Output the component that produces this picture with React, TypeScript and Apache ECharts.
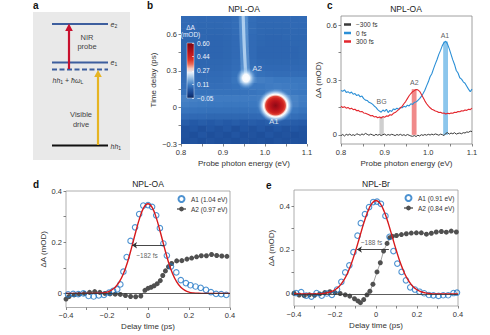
import React, { useEffect, useRef } from 'react';
import * as echarts from 'echarts';

const FONT = '"Liberation Sans", Arial, Helvetica, sans-serif';

// ---------------- panel b : transient absorption map ----------------
const heatEnergy = [0.81, 0.83, 0.85, 0.87, 0.89, 0.91, 0.93, 0.95, 0.97, 0.99, 1.01, 1.03, 1.05, 1.07, 1.09];
const heatDelay = [0.725, 0.675, 0.625, 0.575, 0.525, 0.475, 0.425, 0.375, 0.325, 0.275, 0.225, 0.175, 0.125, 0.075, 0.025, -0.025, -0.075, -0.125, -0.175, -0.225, -0.275];
const heatValues = [
  [0.078, 0.078, 0.076, 0.076, 0.076, 0.076, 0.082, 0.1, 0.082, 0.076, 0.076, 0.076, 0.076, 0.076, 0.078],
  [0.076, 0.076, 0.074, 0.074, 0.074, 0.076, 0.082, 0.1, 0.08, 0.074, 0.074, 0.074, 0.074, 0.076, 0.076],
  [0.074, 0.074, 0.072, 0.072, 0.072, 0.074, 0.08, 0.098, 0.08, 0.074, 0.072, 0.072, 0.072, 0.074, 0.074],
  [0.072, 0.072, 0.072, 0.07, 0.07, 0.072, 0.078, 0.095, 0.078, 0.072, 0.07, 0.07, 0.072, 0.072, 0.072],
  [0.072, 0.072, 0.07, 0.07, 0.07, 0.072, 0.078, 0.092, 0.078, 0.072, 0.07, 0.07, 0.07, 0.072, 0.072],
  [0.072, 0.07, 0.07, 0.07, 0.07, 0.072, 0.078, 0.09, 0.078, 0.07, 0.07, 0.07, 0.07, 0.07, 0.072],
  [0.072, 0.07, 0.07, 0.07, 0.07, 0.072, 0.078, 0.09, 0.078, 0.07, 0.07, 0.07, 0.07, 0.07, 0.072],
  [0.074, 0.072, 0.072, 0.072, 0.072, 0.074, 0.08, 0.092, 0.08, 0.074, 0.072, 0.072, 0.072, 0.072, 0.074],
  [0.076, 0.076, 0.074, 0.074, 0.074, 0.076, 0.082, 0.1, 0.085, 0.078, 0.076, 0.076, 0.076, 0.076, 0.076],
  [0.08, 0.08, 0.078, 0.078, 0.078, 0.08, 0.088, 0.115, 0.1, 0.088, 0.084, 0.082, 0.082, 0.082, 0.082],
  [0.082, 0.082, 0.08, 0.08, 0.08, 0.084, 0.095, 0.13, 0.118, 0.108, 0.104, 0.1, 0.1, 0.098, 0.098],
  [0.086, 0.086, 0.084, 0.084, 0.084, 0.086, 0.09, 0.1, 0.1, 0.1, 0.104, 0.106, 0.104, 0.102, 0.1],
  [0.092, 0.092, 0.09, 0.09, 0.09, 0.09, 0.09, 0.092, 0.094, 0.098, 0.104, 0.112, 0.106, 0.1, 0.098],
  [0.112, 0.11, 0.108, 0.106, 0.104, 0.104, 0.104, 0.104, 0.104, 0.108, 0.124, 0.14, 0.13, 0.114, 0.106],
  [0.106, 0.104, 0.102, 0.1, 0.1, 0.098, 0.098, 0.098, 0.1, 0.106, 0.13, 0.15, 0.135, 0.112, 0.104],
  [0.094, 0.092, 0.09, 0.088, 0.088, 0.088, 0.088, 0.088, 0.09, 0.095, 0.112, 0.128, 0.118, 0.1, 0.094],
  [0.078, 0.076, 0.076, 0.074, 0.074, 0.074, 0.074, 0.074, 0.076, 0.078, 0.086, 0.092, 0.09, 0.084, 0.08],
  [0.056, 0.05, 0.056, 0.05, 0.056, 0.05, 0.056, 0.05, 0.056, 0.052, 0.058, 0.062, 0.06, 0.056, 0.054],
  [0.036, 0.044, 0.032, 0.044, 0.036, 0.046, 0.032, 0.044, 0.036, 0.046, 0.034, 0.044, 0.036, 0.044, 0.038],
  [0.036, 0.03, 0.042, 0.03, 0.038, 0.03, 0.042, 0.032, 0.038, 0.03, 0.042, 0.032, 0.038, 0.03, 0.036],
  [0.032, 0.038, 0.03, 0.038, 0.032, 0.036, 0.03, 0.038, 0.032, 0.036, 0.03, 0.038, 0.032, 0.036, 0.034],
];
const heatColors = ['#0b275f', '#16408a', '#2459a6', '#3b78c0', '#6b9fd5', '#a8caea', '#e6f0fa', '#f7c5b8', '#ea6a57', '#da3529', '#c71f21', '#b0121b', '#960b17', '#7a0613'];
const heatMin = -0.05;
const heatMax = 0.6;
const colorbarTicks = [0.6, 0.44, 0.27, 0.11, -0.05];
const blobA1 = [1.025, 0.015];
const blobA2 = [0.955, 0.241];
const streak = [[0.954, 0.27], [0.952, 0.4], [0.95, 0.55], [0.948, 0.75]];
const heatLabels = [[0.981, 0.323, 'A2'], [1.021, -0.114, 'A1']];
const bXTicks = [0.8, 0.85, 0.9, 0.95, 1.0, 1.05, 1.1];
const bXLabels = [0.8, 0.9, 1.0, 1.1];
const bYTicks = [-0.3, -0.15, 0, 0.15, 0.3, 0.45, 0.6];
const bYLabels = [-0.3, 0, 0.3, 0.6];

// ---------------- panel c : spectra ----------------
const specStart = 0.8;
const specStep = 0.004;
const spec0fs = [0.243, 0.238, 0.246, 0.232, 0.236, 0.228, 0.234, 0.222, 0.226, 0.215, 0.22, 0.208, 0.212, 0.198, 0.19, 0.188, 0.178, 0.174, 0.168, 0.158, 0.15, 0.138, 0.13, 0.124, 0.136, 0.128, 0.14, 0.122, 0.134, 0.128, 0.142, 0.138, 0.146, 0.14, 0.15, 0.148, 0.156, 0.152, 0.162, 0.158, 0.17, 0.166, 0.178, 0.18, 0.188, 0.198, 0.21, 0.226, 0.244, 0.268, 0.29, 0.318, 0.334, 0.362, 0.388, 0.412, 0.44, 0.462, 0.488, 0.505, 0.512, 0.496, 0.47, 0.44, 0.41, 0.385, 0.352, 0.338, 0.312, 0.305, 0.29, 0.282, 0.266, 0.25, 0.236, 0.25];
const spec300fs = [0.156, 0.15, 0.154, 0.146, 0.15, 0.142, 0.146, 0.138, 0.14, 0.132, 0.134, 0.126, 0.128, 0.12, 0.118, 0.114, 0.11, 0.104, 0.106, 0.098, 0.1, 0.094, 0.098, 0.092, 0.1, 0.096, 0.104, 0.102, 0.11, 0.108, 0.118, 0.122, 0.13, 0.138, 0.148, 0.156, 0.17, 0.182, 0.198, 0.214, 0.226, 0.236, 0.242, 0.248, 0.246, 0.238, 0.222, 0.204, 0.186, 0.17, 0.158, 0.148, 0.14, 0.136, 0.13, 0.128, 0.122, 0.124, 0.118, 0.12, 0.114, 0.118, 0.116, 0.12, 0.118, 0.124, 0.122, 0.128, 0.126, 0.132, 0.13, 0.136, 0.134, 0.14, 0.138, 0.146];
const specMinus300fs = [-0.004, 0.002, -0.006, 0.003, -0.002, 0.004, -0.003, 0.001, -0.004, 0.006, 0.002, -0.002, 0.005, 0.0, 0.008, 0.003, -0.002, 0.004, 0.0, -0.004, 0.003, -0.002, 0.002, -0.004, 0.001, 0.004, -0.003, 0.002, -0.002, 0.003, 0.0, -0.004, 0.002, -0.002, 0.003, -0.003, 0.001, -0.004, 0.002, -0.002, -0.006, -0.008, -0.004, -0.009, -0.002, -0.006, 0.001, -0.003, 0.002, -0.002, 0.003, -0.001, 0.004, 0.0, 0.005, 0.002, -0.002, 0.004, 0.001, -0.004, 0.008, 0.012, 0.004, 0.01, 0.006, 0.012, 0.004, 0.008, 0.01, 0.006, 0.012, 0.01, 0.016, 0.014, 0.02, 0.018];
const cBars = [[0.888, 0.898, 0.1], [0.962, 0.973, 0.25], [1.034, 1.045, 0.51]];
const cBarColors = ['#cfcfcf', '#f08a8a', '#8cc6ec'];
const cLabels = [[0.893, 0.185, 'BG'], [0.968, 0.287, 'A2'], [1.038, 0.546, 'A1']];
const cYTicks = [0, 0.15, 0.3, 0.45, 0.6];
const cYLabels = [0, 0.3, 0.6];

// ---------------- panels d, e : kinetics ----------------
const dA1Time = [-0.39, -0.365, -0.34, -0.315, -0.29, -0.265, -0.24, -0.215, -0.19, -0.17, -0.15, -0.135, -0.12, -0.104, -0.085, -0.063, -0.043, -0.023, 0.0, 0.02, 0.04, 0.058, 0.075, 0.092, 0.112, 0.138, 0.16, 0.185, 0.207, 0.232, 0.257, 0.283, 0.307, 0.332, 0.357, 0.382];
const dA1Value = [-0.004, -0.002, -0.003, 0.0, -0.01, -0.012, -0.008, -0.006, 0.003, 0.01, 0.016, 0.035, 0.085, 0.142, 0.205, 0.258, 0.31, 0.343, 0.345, 0.338, 0.305, 0.255, 0.195, 0.148, 0.105, 0.082, 0.052, 0.04, 0.032, 0.027, 0.022, 0.014, 0.005, -0.002, -0.003, -0.006];
const dA2Time = [-0.4, -0.385, -0.36, -0.335, -0.31, -0.285, -0.26, -0.235, -0.21, -0.185, -0.16, -0.135, -0.11, -0.085, -0.06, -0.035, -0.015, 0.0, 0.015, 0.03, 0.045, 0.06, 0.072, 0.085, 0.1, 0.115, 0.14, 0.165, 0.19, 0.213, 0.237, 0.26, 0.285, 0.31, 0.335, 0.36, 0.385];
const dA2Value = [-0.022, -0.012, -0.006, -0.003, 0.0, 0.004, 0.007, 0.004, 0.0, -0.002, -0.003, -0.004, -0.008, -0.012, -0.013, -0.01, 0.012, 0.02, 0.024, 0.03, 0.038, 0.05, 0.07, 0.088, 0.104, 0.117, 0.127, 0.128, 0.134, 0.138, 0.143, 0.147, 0.147, 0.152, 0.148, 0.146, 0.145];
const eA1Time = [-0.39, -0.365, -0.34, -0.315, -0.29, -0.265, -0.24, -0.215, -0.19, -0.169, -0.15, -0.13, -0.11, -0.09, -0.074, -0.054, -0.034, -0.014, 0.005, 0.024, 0.046, 0.066, 0.085, 0.104, 0.125, 0.146, 0.167, 0.19, 0.212, 0.235, 0.258, 0.28, 0.305, 0.328, 0.352, 0.378, 0.395];
const eA1Value = [0.004, 0.008, -0.008, -0.012, 0.004, -0.008, 0.002, -0.004, 0.02, 0.055, 0.098, 0.13, 0.19, 0.265, 0.322, 0.363, 0.395, 0.418, 0.42, 0.41, 0.355, 0.26, 0.195, 0.138, 0.1, 0.062, 0.03, 0.02, 0.01, 0.003, -0.005, -0.007, -0.009, -0.006, -0.006, 0.004, 0.006];
const eA2Time = [-0.4, -0.375, -0.35, -0.325, -0.3, -0.275, -0.25, -0.225, -0.2, -0.175, -0.15, -0.128, -0.105, -0.088, -0.076, -0.06, -0.044, -0.03, -0.015, 0.005, 0.021, 0.037, 0.054, 0.067, 0.08, 0.1, 0.124, 0.148, 0.172, 0.197, 0.221, 0.246, 0.27, 0.294, 0.319, 0.343, 0.367, 0.392];
const eA2Value = [0.003, -0.005, -0.008, -0.004, -0.006, 0.0, 0.006, 0.01, 0.006, 0.002, -0.004, -0.01, -0.022, -0.032, -0.04, -0.026, -0.004, 0.012, 0.044, 0.1, 0.142, 0.195, 0.23, 0.256, 0.262, 0.266, 0.27, 0.274, 0.277, 0.278, 0.278, 0.272, 0.276, 0.282, 0.284, 0.281, 0.286, 0.282];
const fitStart = -0.4;
const fitStep = 0.02;
const dFitValue = [0, 0, 0, 0, 0, 0, 0, 0, 0.001, 0.002, 0.005, 0.012, 0.024, 0.045, 0.077, 0.122, 0.179, 0.24, 0.296, 0.336, 0.35, 0.336, 0.296, 0.24, 0.179, 0.122, 0.077, 0.045, 0.024, 0.012, 0.005, 0.002, 0.001, 0, 0, 0, 0, 0, 0, 0, 0];
const eFitValue = [0, 0, 0, 0, 0, 0, 0, 0.002, 0.005, 0.01, 0.019, 0.034, 0.058, 0.092, 0.138, 0.195, 0.258, 0.321, 0.375, 0.412, 0.425, 0.412, 0.375, 0.321, 0.258, 0.195, 0.138, 0.092, 0.058, 0.034, 0.019, 0.01, 0.005, 0.002, 0, 0, 0, 0, 0, 0, 0];
const dArrow = [[0.08, 0.188], [-0.078, 0.188]];
const eArrow = [[0.063, 0.202], [-0.093, 0.202]];
const dNote = [-0.005, 0.148, '~182 fs'];
const eNote = [-0.022, 0.236, '~188 fs'];
const kinXTicks = [-0.4, -0.3, -0.2, -0.1, 0, 0.1, 0.2, 0.3, 0.4];
const kinXLabels = [-0.4, -0.2, 0, 0.2, 0.4];
const kinYTicks = [0, 0.1, 0.2, 0.3, 0.4];
const kinYLabels = [0, 0.2, 0.4];

const fmt1 = (v: number) => (Math.abs(v) < 1e-9 ? '0' : (v < 0 ? '\u2212' : '') + Math.abs(v).toFixed(1));
const fmt2 = (v: number) => (v < 0 ? '\u2212' : '') + Math.abs(v).toFixed(2);
const zip = (xs: number[], ys: number[]) => xs.map((x, i) => [x, ys[i]]);

const axisLabelStyle = { fontFamily: FONT, fontSize: 7.5, color: '#333' };
const nameStyle = { fontFamily: FONT, fontSize: 8, color: '#333' };

function valueAxis(gridIndex: number, min: number, max: number, ticks: number[], labels: number[], fmt: (v: number) => string, extra: any = {}) {
  return {
    type: 'value',
    gridIndex,
    min,
    max,
    axisLine: { show: false, onZero: false },
    splitLine: { show: false },
    axisTick: { show: true, customValues: ticks, length: 2.5, lineStyle: { color: '#666', width: 0.8 } },
    axisLabel: { show: true, customValues: labels, formatter: fmt, margin: 4, ...axisLabelStyle },
    nameTextStyle: nameStyle,
    nameLocation: 'middle',
    ...extra,
  };
}

function buildOption(): any {
  const heatData: number[][] = [];
  heatValues.forEach((row, r) => row.forEach((v, c) => heatData.push([heatEnergy[c], heatDelay[r], v])));
  const halfW = (heatEnergy[1] - heatEnergy[0]) / 2;
  const halfH = (heatDelay[0] - heatDelay[1]) / 2;
  const specEnergy = spec0fs.map((_, i) => +(specStart + specStep * i).toFixed(3));
  const fitTime = dFitValue.map((_, i) => +(fitStart + fitStep * i).toFixed(3));

  const cbStops = heatColors.map((c, i) => ({ offset: i / (heatColors.length - 1), color: c }));

  const RG = echarts.graphic.RadialGradient;
  const a1Fill = new RG(0.5, 0.5, 0.5, [
    { offset: 0, color: '#8e0a15' },
    { offset: 0.25, color: '#b5111b' },
    { offset: 0.45, color: '#d0241f' },
    { offset: 0.55, color: '#e24a3e' },
    { offset: 0.61, color: '#f9d2c8' },
    { offset: 0.67, color: '#ffffff' },
    { offset: 0.78, color: 'rgba(200,225,248,0.75)' },
    { offset: 1, color: 'rgba(90,150,215,0)' },
  ]);
  const a2Fill = new RG(0.5, 0.5, 0.5, [
    { offset: 0, color: '#ffffff' },
    { offset: 0.35, color: 'rgba(255,255,255,0.95)' },
    { offset: 0.55, color: 'rgba(200,226,248,0.7)' },
    { offset: 1, color: 'rgba(100,160,220,0)' },
  ]);

  const textSeries = (xi: number, yi: number, data: any[], color: string, size: number, z = 6) => ({
    type: 'scatter',
    xAxisIndex: xi,
    yAxisIndex: yi,
    data,
    symbolSize: 1,
    itemStyle: { color: 'rgba(0,0,0,0)' },
    silent: true,
    z,
    label: { show: true, position: 'inside', formatter: (p: any) => p.data[2], color, fontSize: size, fontFamily: FONT },
  });

  const arrowLine = (pts: number[][]) => ({
    silent: true,
    symbol: ['none', 'arrow'],
    symbolSize: 5,
    label: { show: false },
    lineStyle: { color: '#333', width: 0.9, type: 'solid' },
    data: [[{ coord: pts[0] }, { coord: pts[1] }]],
  });
  const zeroLine = {
    silent: true,
    symbol: ['none', 'none'],
    label: { show: false },
    lineStyle: { color: '#333', width: 0.8, type: 'solid' },
    data: [{ yAxis: 0 }],
  };

  const sub = { fontSize: 5, fontFamily: FONT, verticalAlign: 'bottom', padding: [3, 0, 0, 0] };
  const ital = { fontSize: 7, fontStyle: 'italic', fontFamily: FONT };
  const panelA: any[] = [
    { type: 'rect', shape: { x: 33, y: 12, width: 97, height: 148 }, style: { fill: '#e9e9e9' } },
    { type: 'line', shape: { x1: 52, y1: 24, x2: 108, y2: 24 }, style: { stroke: '#3d5e9e', lineWidth: 2.2 } },
    { type: 'line', shape: { x1: 52, y1: 62.5, x2: 108, y2: 62.5 }, style: { stroke: '#3d5e9e', lineWidth: 2.2 } },
    { type: 'line', shape: { x1: 52, y1: 69.5, x2: 108, y2: 69.5 }, style: { stroke: '#3d5e9e', lineWidth: 2.2, lineDash: [5, 2.5] } },
    { type: 'line', shape: { x1: 52, y1: 145.5, x2: 108, y2: 145.5 }, style: { stroke: '#111', lineWidth: 2.2 } },
    { type: 'line', shape: { x1: 69, y1: 69, x2: 69, y2: 30 }, style: { stroke: '#c8102e', lineWidth: 2.2 } },
    { type: 'polygon', shape: { points: [[65.2, 31], [72.8, 31], [69, 23.5]] }, style: { fill: '#c8102e' } },
    { type: 'line', shape: { x1: 98, y1: 145, x2: 98, y2: 76 }, style: { stroke: '#e6b422', lineWidth: 2.2 } },
    { type: 'polygon', shape: { points: [[94.2, 77], [101.8, 77], [98, 70]] }, style: { fill: '#e6b422' } },
    { type: 'text', x: 87, y: 42, style: { text: 'NIR\nprobe', align: 'center', verticalAlign: 'middle', fontSize: 7.5, lineHeight: 9.5, fontFamily: FONT, fill: '#444' } },
    { type: 'text', x: 81, y: 119.5, style: { text: 'Visible\ndrive', align: 'center', verticalAlign: 'middle', fontSize: 7.5, lineHeight: 9.5, fontFamily: FONT, fill: '#444' } },
    { type: 'text', x: 110.5, y: 24, style: { text: '{i|e}{s|2}', verticalAlign: 'middle', fontFamily: FONT, fill: '#333', rich: { i: ital, s: sub } } },
    { type: 'text', x: 110.5, y: 62.5, style: { text: '{i|e}{s|1}', verticalAlign: 'middle', fontFamily: FONT, fill: '#333', rich: { i: ital, s: sub } } },
    { type: 'text', x: 110.5, y: 146, style: { text: '{i|hh}{s|1}', verticalAlign: 'middle', fontFamily: FONT, fill: '#333', rich: { i: ital, s: sub } } },
    { type: 'text', x: 52.5, y: 80, style: { text: '{i|hh}{s|1}{n| + }{i|\u0127\u03c9}{s|L}', verticalAlign: 'middle', fontFamily: FONT, fill: '#333', rich: { i: ital, n: { fontSize: 7, fontFamily: FONT }, s: sub } } },
  ];
  const letter = (t: string, x: number, y: number) => ({ type: 'text', x, y, style: { text: t, fontSize: 10, fontWeight: 'bold', fontFamily: FONT, fill: '#111', verticalAlign: 'middle' } });
  const title = (t: string, x: number, y: number) => ({ type: 'text', x, y, style: { text: t, fontSize: 8.5, fontFamily: FONT, fill: '#222', align: 'center', verticalAlign: 'middle' } });

  const hollow = { color: 'rgba(255,255,255,0)', borderColor: '#2177c6', borderWidth: 1.1 };

  return {
    animation: false,
    backgroundColor: '#ffffff',
    textStyle: { fontFamily: FONT },
    grid: [
      { left: 181, top: 16, width: 126, height: 128, outerBoundsMode: 'none' },
      { left: 341, top: 16, width: 131, height: 128, show: true, borderColor: '#888', borderWidth: 0.8, outerBoundsMode: 'none' },
      { left: 66, top: 191, width: 164, height: 116.5, show: true, borderColor: '#999', borderWidth: 0.8, outerBoundsMode: 'none' },
      { left: 294, top: 190, width: 164, height: 116, show: true, borderColor: '#999', borderWidth: 0.8, outerBoundsMode: 'none' },
      { left: 187, top: 43, width: 7, height: 55, show: true, borderColor: 'rgba(255,255,255,0.8)', borderWidth: 0.5, backgroundColor: new echarts.graphic.LinearGradient(0, 1, 0, 0, cbStops), z: 5, outerBoundsMode: 'none' },
    ],
    xAxis: [
      valueAxis(0, 0.8, 1.1, bXTicks, bXLabels, fmt1, { name: 'Probe photon energy (eV)', nameGap: 15 }),
      valueAxis(1, 0.8, 1.1, bXTicks, bXLabels, fmt1, { name: 'Probe photon energy (eV)', nameGap: 15 }),
      valueAxis(2, -0.4, 0.4, kinXTicks, kinXLabels, fmt1, { name: 'Delay time (ps)', nameGap: 15 }),
      valueAxis(3, -0.4, 0.4, kinXTicks, kinXLabels, fmt1, { name: 'Delay time (ps)', nameGap: 15 }),
      { type: 'value', gridIndex: 4, show: false, min: 0, max: 1 },
    ],
    yAxis: [
      valueAxis(0, -0.3, 0.75, bYTicks, bYLabels, fmt1, { name: 'Time delay (ps)', nameGap: 24 }),
      valueAxis(1, -0.05, 0.65, cYTicks, cYLabels, fmt1, { name: '\u0394A (mOD)', nameGap: 11 }),
      valueAxis(2, -0.055, 0.4, kinYTicks, kinYLabels, fmt1, { name: '\u0394A (mOD)', nameGap: 18 }),
      valueAxis(3, -0.055, 0.473, kinYTicks, kinYLabels, fmt1, { name: '\u0394A (mOD)', nameGap: 18 }),
      {
        type: 'value', gridIndex: 4, min: heatMin, max: heatMax, position: 'right', z: 6,
        axisLine: { show: false, onZero: false }, splitLine: { show: false },
        axisTick: { show: true, inside: true, customValues: colorbarTicks, length: 2, lineStyle: { color: '#fff', width: 0.6 } },
        axisLabel: { show: true, customValues: colorbarTicks, formatter: fmt2, margin: 3, fontFamily: FONT, fontSize: 6.5, color: '#eef4ff' },
      },
    ],
    visualMap: [
      { type: 'continuous', show: false, seriesIndex: 0, dimension: 2, min: heatMin, max: heatMax, inRange: { color: heatColors } },
    ],
    legend: [
      {
        data: ['\u2212300 fs', '0 fs', '300 fs'], left: 344, top: 20.5, orient: 'vertical', icon: 'rect',
        itemWidth: 7, itemHeight: 2.5, itemGap: 0.5, padding: 0,
        textStyle: { fontFamily: FONT, fontSize: 6.5, color: '#333', lineHeight: 8 },
      },
      {
        data: ['A1 (1.04 eV)', 'A2 (0.97 eV)'], left: 176, top: 195, orient: 'vertical',
        itemWidth: 9, itemHeight: 6, itemGap: 2.5, padding: 0,
        textStyle: { fontFamily: FONT, fontSize: 6.5, color: '#333' },
      },
      {
        data: ['A1 (0.91 eV)', 'A2 (0.84 eV)'], left: 403, top: 194, orient: 'vertical',
        itemWidth: 9, itemHeight: 6, itemGap: 2.5, padding: 0,
        textStyle: { fontFamily: FONT, fontSize: 6.5, color: '#333' },
      },
    ],
    series: [
      {
        type: 'custom', xAxisIndex: 0, yAxisIndex: 0, z: 1, silent: true, clip: true,
        data: heatData,
        encode: { x: 0, y: 1 },
        renderItem: (params: any, api: any) => {
          const x = api.value(0);
          const y = api.value(1);
          const p0 = api.coord([x - halfW, y + halfH]);
          const p1 = api.coord([x + halfW, y - halfH]);
          return { type: 'rect', shape: { x: p0[0], y: p0[1], width: p1[0] - p0[0] + 0.6, height: p1[1] - p0[1] + 0.6 }, style: { fill: api.visual('color') } };
        },
      },
      {
        type: 'line', xAxisIndex: 0, yAxisIndex: 0, z: 2, silent: true, smooth: true, showSymbol: false,
        data: streak, lineStyle: { color: 'rgba(140,190,236,0.35)', width: 9 },
      },
      {
        type: 'line', xAxisIndex: 0, yAxisIndex: 0, z: 2, silent: true, smooth: true, showSymbol: false,
        data: streak, lineStyle: { color: 'rgba(200,226,248,0.75)', width: 3.2 },
      },
      { type: 'scatter', xAxisIndex: 0, yAxisIndex: 0, z: 3, silent: true, data: [blobA2], symbolSize: [20, 22], itemStyle: { color: a2Fill, opacity: 1 } },
      { type: 'scatter', xAxisIndex: 0, yAxisIndex: 0, z: 3, silent: true, data: [blobA1], symbolSize: [36, 34], itemStyle: { color: a1Fill, opacity: 1 } },
      textSeries(0, 0, heatLabels, '#ffffff', 8),

      {
        type: 'custom', xAxisIndex: 1, yAxisIndex: 1, z: 1, silent: true,
        data: cBars,
        encode: { x: [0, 1], y: 2 },
        renderItem: (params: any, api: any) => {
          const p0 = api.coord([api.value(0), api.value(2)]);
          const p1 = api.coord([api.value(1), 0]);
          return { type: 'rect', shape: { x: p0[0], y: p0[1], width: p1[0] - p0[0], height: p1[1] - p0[1] }, style: { fill: cBarColors[params.dataIndex] } };
        },
      },
      { name: '\u2212300 fs', type: 'line', xAxisIndex: 1, yAxisIndex: 1, z: 3, showSymbol: false, data: zip(specEnergy, specMinus300fs), color: '#3a3a3a', lineStyle: { color: '#3a3a3a', width: 1 } },
      { name: '0 fs', type: 'line', xAxisIndex: 1, yAxisIndex: 1, z: 3, showSymbol: false, data: zip(specEnergy, spec0fs), color: '#2b8fd6', lineStyle: { color: '#2b8fd6', width: 1.1 } },
      { name: '300 fs', type: 'line', xAxisIndex: 1, yAxisIndex: 1, z: 3, showSymbol: false, data: zip(specEnergy, spec300fs), color: '#e3262d', lineStyle: { color: '#e3262d', width: 1.1 } },
      textSeries(1, 1, cLabels, '#333', 7),

      {
        name: 'A2 (0.97 eV)', type: 'line', xAxisIndex: 2, yAxisIndex: 2, z: 2, data: zip(dA2Time, dA2Value),
        symbol: 'circle', symbolSize: 5, showSymbol: true, color: '#505050',
        itemStyle: { color: '#505050' }, lineStyle: { color: '#8a8a8a', width: 0.8 },
        markLine: zeroLine,
      },
      {
        name: 'A1 (1.04 eV)', type: 'scatter', xAxisIndex: 2, yAxisIndex: 2, z: 3, data: zip(dA1Time, dA1Value),
        symbol: 'circle', symbolSize: 5.5, color: '#2177c6', itemStyle: hollow,
      },
      {
        type: 'line', xAxisIndex: 2, yAxisIndex: 2, z: 4, silent: true, smooth: 0.4, showSymbol: false,
        data: zip(fitTime, dFitValue), lineStyle: { color: '#d7191c', width: 1.4 },
        markLine: arrowLine(dArrow),
      },
      textSeries(2, 2, [dNote], '#333', 6.5),

      {
        name: 'A2 (0.84 eV)', type: 'line', xAxisIndex: 3, yAxisIndex: 3, z: 2, data: zip(eA2Time, eA2Value),
        symbol: 'circle', symbolSize: 5, showSymbol: true, color: '#505050',
        itemStyle: { color: '#505050' }, lineStyle: { color: '#8a8a8a', width: 0.8 },
        markLine: zeroLine,
      },
      {
        name: 'A1 (0.91 eV)', type: 'scatter', xAxisIndex: 3, yAxisIndex: 3, z: 3, data: zip(eA1Time, eA1Value),
        symbol: 'circle', symbolSize: 5.5, color: '#2177c6', itemStyle: hollow,
      },
      {
        type: 'line', xAxisIndex: 3, yAxisIndex: 3, z: 4, silent: true, smooth: 0.4, showSymbol: false,
        data: zip(fitTime, eFitValue), lineStyle: { color: '#d7191c', width: 1.4 },
        markLine: arrowLine(eArrow),
      },
      textSeries(3, 3, [eNote], '#333', 6.5),
    ],
    graphic: [
      ...panelA,
      letter('a', 33, 5),
      letter('b', 147, 5),
      letter('c', 327, 5),
      letter('d', 33, 184),
      letter('e', 266, 185),
      title('NPL-OA', 244, 9),
      title('NPL-OA', 406, 9),
      title('NPL-OA', 148, 184),
      title('NPL-Br', 376, 184),
      { type: 'text', x: 190.5, y: 31, z: 100, style: { text: '\u0394A\n(mOD)', align: 'center', verticalAlign: 'middle', fontSize: 6.5, lineHeight: 7.5, fontFamily: FONT, fill: '#e6efff' } },
    ],
  };
}

export default function App() {
  const ref = useRef<HTMLDivElement>(null);
  useEffect(() => {
    if (!ref.current) return;
    const chart = echarts.init(ref.current, null, { renderer: 'svg' });
    chart.setOption(buildOption());
    return () => chart.dispose();
  }, []);
  return <div ref={ref} style={{ position: 'fixed', left: 0, top: 0, width: 490, height: 335, background: '#fff' }} />;
}
